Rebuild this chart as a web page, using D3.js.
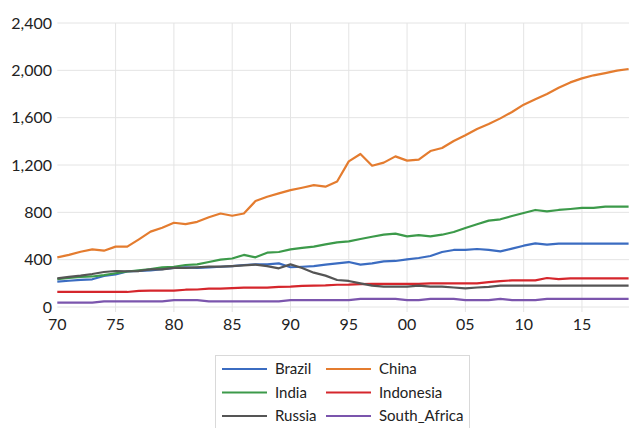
<!DOCTYPE html>
<html>
<head>
<meta charset="utf-8">
<script src="https://cdn.jsdelivr.net/npm/d3@7"></script>
<style>
  body { margin: 0; background: #fff; }
  text { font-family: Lato, "Open Sans", sans-serif; fill: #222; }
</style>
</head>
<body>
<div id="chart"></div>
<script>
var years = d3.range(1970, 2020)
var yTicks = [0, 400, 800, 1200, 1600, 2000, 2400]
var xTicks = [1970, 1975, 1980, 1985, 1990, 1995, 2000, 2005, 2010, 2015]

var brazil = [214, 222, 230, 234, 262, 275, 300, 305, 310, 320,
  330, 335, 330, 335, 340, 345, 355, 360, 360, 369,
  336, 340, 346, 358, 369, 380, 358, 369, 386, 389,
  403, 414, 431, 465, 482, 482, 490, 482, 470, 493,
  518, 538, 527, 535, 535, 535, 535, 535, 535, 535]
var china = [420, 440, 467, 487, 476, 510, 510, 572, 637, 670,
  712, 700, 720, 758, 790, 771, 790, 895, 932, 960,
  988, 1008, 1030, 1017, 1060, 1231, 1293, 1194, 1220, 1273,
  1237, 1245, 1318, 1344, 1403, 1451, 1504, 1546, 1594, 1648,
  1710, 1755, 1800, 1853, 1898, 1932, 1958, 1977, 1997, 2011]
var india = [235, 245, 255, 258, 270, 285, 300, 310, 320, 335,
  340, 355, 360, 380, 400, 410, 440, 420, 459, 465,
  487, 500, 510, 529, 546, 555, 575, 594, 611, 620,
  597, 608, 597, 611, 634, 668, 699, 730, 741, 769,
  794, 820, 808, 820, 828, 837, 837, 848, 848, 848]
var indonesia = [127, 127, 127, 127, 127, 127, 127, 136, 138, 138,
  138, 146, 148, 155, 155, 160, 163, 163, 163, 170,
  172, 178, 180, 182, 188, 189, 193, 195, 195, 195,
  195, 195, 200, 200, 200, 200, 200, 210, 218, 225,
  225, 225, 245, 235, 242, 242, 242, 242, 242, 242]
var russia = [242, 255, 265, 279, 296, 304, 302, 304, 318, 318,
  330, 330, 335, 341, 341, 346, 352, 358, 346, 327,
  360, 330, 290, 265, 228, 220, 200, 180, 172, 172,
  172, 180, 172, 172, 165, 158, 165, 170, 180, 180,
  180, 180, 180, 180, 180, 180, 180, 180, 180, 180]
var southAfrica = [37, 37, 37, 37, 48, 48, 48, 48, 48, 48,
  58, 58, 58, 48, 48, 48, 48, 48, 48, 48,
  58, 58, 58, 58, 58, 58, 68, 68, 68, 68,
  58, 58, 68, 68, 68, 58, 58, 58, 68, 58,
  58, 58, 68, 68, 68, 68, 68, 68, 68, 68]

var seriesNames = ['Brazil', 'China', 'India', 'Indonesia', 'Russia', 'South_Africa']
var seriesValues = [brazil, china, india, indonesia, russia, southAfrica]
var colors = ['#3b6cc1', '#e47c2f', '#3c9a4a', '#d5262c', '#555555', '#7b55ad']

var width = 629
var height = 428

var svg = d3.select('#chart')
  .append('svg')
  .attr('width', width)
  .attr('height', height)

var x = d3.scaleLinear().domain([1970, 2019]).range([57.3, 628.6])
var y = d3.scaleLinear().domain([0, 2400]).range([307, 23])

// gridlines
svg.append('g')
  .selectAll('line')
  .data(yTicks)
  .join('line')
  .attr('x1', x(1970))
  .attr('x2', width)
  .attr('y1', d => y(d))
  .attr('y2', d => y(d))
  .attr('stroke', '#e4e4e4')
  .attr('stroke-width', 1)

svg.append('g')
  .selectAll('line')
  .data(xTicks.slice(1))
  .join('line')
  .attr('x1', d => x(d))
  .attr('x2', d => x(d))
  .attr('y1', y(2400))
  .attr('y2', y(0) + 5)
  .attr('stroke', '#e4e4e4')
  .attr('stroke-width', 1)

// axis labels
svg.append('g')
  .selectAll('text')
  .data(yTicks)
  .join('text')
  .attr('x', 52)
  .attr('y', d => y(d))
  .attr('dy', '0.35em')
  .attr('text-anchor', 'end')
  .style('font-size', '16px')
  .text(d3.format(','))

svg.append('g')
  .selectAll('text')
  .data(xTicks)
  .join('text')
  .attr('x', d => x(d))
  .attr('y', 330)
  .attr('text-anchor', 'middle')
  .style('font-size', '16px')
  .text(d => String(d % 100).padStart(2, '0'))

// lines
var line = d3.line()
  .x((d, i) => x(years[i]))
  .y(d => y(d))

svg.append('g')
  .selectAll('path')
  .data(seriesValues)
  .join('path')
  .attr('d', d => line(d))
  .attr('fill', 'none')
  .attr('stroke', (d, i) => colors[i])
  .attr('stroke-width', 2.2)
  .attr('stroke-linejoin', 'round')

// legend
var legend = svg.append('g')
legend.append('rect')
  .attr('x', 215.5)
  .attr('y', 355.5)
  .attr('width', 254)
  .attr('height', 90)
  .attr('fill', '#fff')
  .attr('stroke', '#d9d9d9')

var items = legend.selectAll('g')
  .data(seriesNames)
  .join('g')
  .attr('transform', (d, i) => 'translate(' + (i % 2 ? 326 : 222) + ',' + (369 + Math.floor(i / 2) * 23.5) + ')')

items.append('line')
  .attr('x1', 0)
  .attr('x2', 45)
  .attr('stroke', (d, i) => colors[i])
  .attr('stroke-width', 2.2)

items.append('text')
  .attr('x', 53)
  .attr('dy', '0.35em')
  .style('font-size', '15px')
  .text(d => d)
</script>
</body>
</html>
